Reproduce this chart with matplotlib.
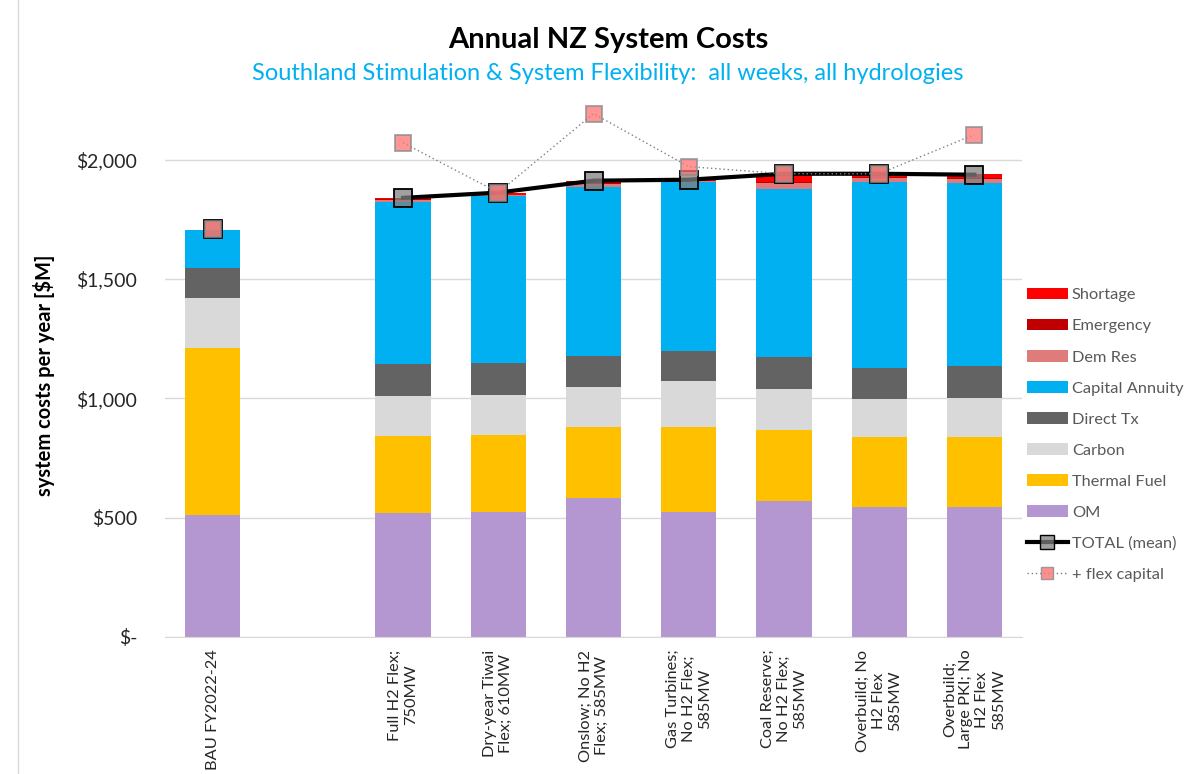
import numpy as np
import matplotlib
matplotlib.use("Agg")
import matplotlib.pyplot as plt
from matplotlib.lines import Line2D

plt.rcParams["font.family"] = ["Lato", "DejaVu Sans"]

# scenario labels (index 1 is an empty gap in the original chart)
labels = ["BAU FY2022-24", "",
          "Full H2 Flex;\n750MW",
          "Dry-year Tiwai\nFlex; 610MW",
          "Onslow; No H2\nFlex; 585MW",
          "Gas Turbines;\nNo H2 Flex;\n585MW",
          "Coal Reserve;\nNo H2 Flex;\n585MW",
          "Overbuild; No\nH2 Flex\n585MW",
          "Overbuild;\nLarge PKI; No\nH2 Flex\n585MW"]

# cost components, $M per year
om        = [510, np.nan, 520, 524, 583, 524, 570, 545, 545]
thermal   = [702, np.nan, 323, 323, 297, 356, 298, 294, 294]
carbon    = [209, np.nan, 167, 168, 168, 193, 172, 159, 163]
direct_tx = [126, np.nan, 135, 134, 130, 126, 134, 130, 134]
capital   = [159, np.nan, 679, 700, 709, 709, 704, 780, 768]
dem_res   = [0, np.nan, 8, 5, 12, 4, 25, 17, 16]
emergency = [0, np.nan, 2, 0, 4, 0, 3, 2, 2]
shortage  = [0, np.nan, 6, 7, 9, 4, 28, 8, 16]

total_mean   = [1710, np.nan, 1840, 1862, 1912, 1916, 1941, 1941, 1937]
flex_capital = [1710, np.nan, 2071, 1862, 2193, 1971, 1941, 1941, 2105]

stack = [("OM", om, "#B497D0"),
         ("Thermal Fuel", thermal, "#FFC000"),
         ("Carbon", carbon, "#D9D9D9"),
         ("Direct Tx", direct_tx, "#636363"),
         ("Capital Annuity", capital, "#00B0F0"),
         ("Dem Res", dem_res, "#E07B7B"),
         ("Emergency", emergency, "#C00000"),
         ("Shortage", shortage, "#FF0000")]

fig = plt.figure(figsize=(11.98, 7.74), dpi=100)
ax = fig.add_axes([165/1198, 137/774, 857/1198, 537/774])

x = np.arange(len(labels))
bottom = np.zeros(len(labels))
handles = {}
for name, vals, col in stack:
    v = np.nan_to_num(np.array(vals, dtype=float))
    b = ax.bar(x, v, 0.58, bottom=bottom, color=col, zorder=2)
    handles[name] = b
    bottom += v

# total line (BAU marker is not joined to the rest)
tot = np.array(total_mean, dtype=float)
flex = np.array(flex_capital, dtype=float)
ax.plot(x, tot, color="black", lw=3, zorder=3)
ax.plot(x, tot, ls="none", marker="s", ms=12.5, mfc=(0.5, 0.5, 0.5, 0.75),
        mec="black", mew=1.3, zorder=4)
ax.plot(x, flex, color="#808080", lw=1, ls=(0, (1, 2)), zorder=5)
ax.plot(x, flex, ls="none", marker="s", ms=11, mfc=(1, 0.45, 0.45, 0.75),
        mec=(0.55, 0.55, 0.55, 0.8), mew=1.3, zorder=6)

ax.set_xlim(-0.5, 8.5)
ax.set_ylim(0, 2250)
ax.set_yticks([0, 500, 1000, 1500, 2000])
ax.set_yticklabels(["$-", "$500", "$1,000", "$1,500", "$2,000"])
ax.set_xticks(x)
ax.set_xticklabels(labels, rotation=90, ha="center", va="top",
                   multialignment="center", fontsize=11.8)
ax.tick_params(axis="y", length=0, pad=20, labelsize=14, labelcolor="#262626")
ax.tick_params(axis="x", length=0, pad=9, labelcolor="#262626")
ax.grid(axis="y", color="#D9D9D9", lw=1, zorder=0)
ax.set_axisbelow(True)
for s in ["top", "right", "left"]:
    ax.spines[s].set_visible(False)
ax.spines["bottom"].set_color("#D9D9D9")

ax.set_ylabel("system costs per year [$M]", fontsize=14.5, fontweight="bold")
ax.yaxis.set_label_coords(-0.128, 0.488)

fig.text(608/1198, 1 - 40/774, "Annual NZ System Costs", ha="center",
         va="center", fontsize=21, fontweight="bold")
fig.text(608/1198, 1 - 73/774,
         "Southland Stimulation & System Flexibility:  all weeks, all hydrologies",
         ha="center", va="center", fontsize=17, color="#00B0F0")

# left slide border
fig.add_artist(Line2D([18/1198, 18/1198], [0, 1], color="#D9D9D9", lw=1))

leg_h = [handles[n] for n in ["Shortage", "Emergency", "Dem Res", "Capital Annuity",
                              "Direct Tx", "Carbon", "Thermal Fuel", "OM"]]
leg_h.append(Line2D([], [], color="black", lw=3, marker="s", ms=10,
                    mfc=(0.5, 0.5, 0.5, 0.75), mec="black"))
leg_h.append(Line2D([], [], color="#808080", lw=1, ls=(0, (1, 2)), marker="s",
                    ms=9, mfc=(1, 0.45, 0.45, 0.8), mec="#999999"))
leg_l = ["Shortage", "Emergency", "Dem Res", "Capital Annuity", "Direct Tx",
         "Carbon", "Thermal Fuel", "OM", "TOTAL (mean)", "+ flex capital"]
leg = fig.legend(leg_h, leg_l, loc="upper left",
                 bbox_to_anchor=(1027/1198, 1 - 288/774), frameon=False,
                 fontsize=11.75, labelspacing=1.02, handlelength=2.5,
                 handletextpad=0.25, handleheight=0.7, borderaxespad=0,
                 borderpad=0)
for t in leg.get_texts():
    t.set_color("#595959")

fig.savefig("out.png", dpi=100)
